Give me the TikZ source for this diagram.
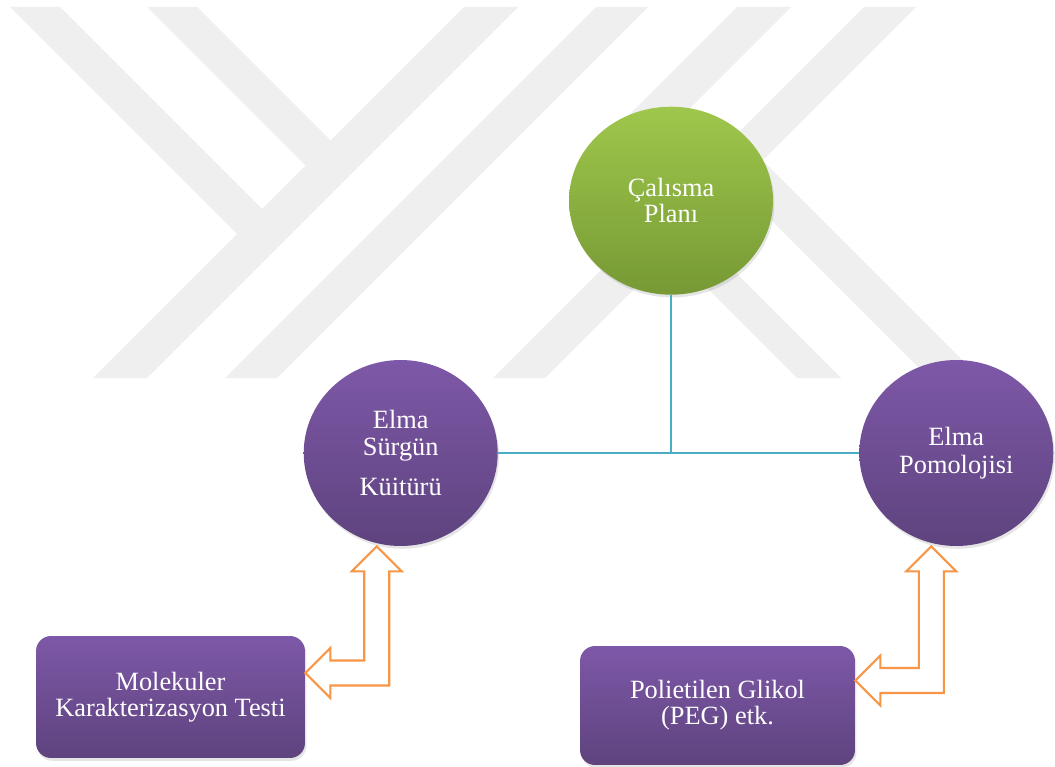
\documentclass[tikz,border=0pt]{standalone}
\usepackage{fontspec}
\setmainfont{Liberation Serif}
\usetikzlibrary{positioning,calc,shapes.geometric,shadows}
\definecolor{morust}{HTML}{7E58A8}
\definecolor{moralt}{HTML}{5E437E}
\definecolor{yesilust}{HTML}{9FC74C}
\definecolor{yesilalt}{HTML}{769934}
\definecolor{mavi}{HTML}{4BACC6}
\definecolor{turuncu}{HTML}{F79646}
\definecolor{filigran}{HTML}{EFEFEF}
\tikzset{
    daire/.style={ellipse,minimum width=3.88cm,minimum height=3.72cm,inner sep=0pt,align=center,text=white,
        font=\fontsize{15}{15.8}\selectfont,top color=morust,bottom color=moralt,
        drop shadow={opacity=.2,shadow xshift=.8pt,shadow yshift=-1.6pt}},
    ana/.style={daire,minimum width=4.08cm,minimum height=3.76cm,top color=yesilust,bottom color=yesilalt,
        font=\fontsize{15}{14.8}\selectfont},
    kutu/.style={rectangle,rounded corners=.3cm,inner sep=0pt,align=center,text=white,
        font=\fontsize{15}{14.8}\selectfont,top color=morust,bottom color=moralt,
        drop shadow={opacity=.2,shadow xshift=.8pt,shadow yshift=-1.6pt}},
    bag/.style={-,draw=mavi,line width=1pt},
    cift/.style={draw=turuncu,fill=white,line width=1.2pt,line join=miter}
}
\newcommand{\ciftok}[2]{%
    \draw[cift] let \p1=(#1), \p2=(#2) in
        (\p1) -- ++(25,25) -- ++(-12.5,0)
        -- ([shift={(12.5,12.5)}]\x1,\y2) -- ([shift={(25,12.5)}]\p2)
        -- ++(0,12.5) -- (\p2) -- ++(25,-25) -- ++(0,12.5)
        -- ([shift={(-12.5,-12.5)}]\x1,\y2) -- ([shift={(-12.5,25)}]\p1)
        -- ++(-12.5,0) -- cycle;}

\begin{document}
\begin{tikzpicture}[x=0.02cm,y=-0.02cm]
    \fill[white] (0,0) rectangle (1055,767);
    \useasboundingbox (0,0) rectangle (1055,767);

    \begin{scope}
        \clip (0,7) rectangle (1055,378);
        \fill[filigran] (464,7) -- (518,7) -- (147,378) -- (93,378) -- cycle;
        \fill[filigran] (10,7) -- (60,7) -- (266.5,213.5) -- (241.5,238.5) -- cycle;
        \fill[filigran] (147,7) -- (197,7) -- (335,145) -- (310,170) -- cycle;
        \fill[filigran] (596,7) -- (648,7) -- (277,378) -- (225,378) -- cycle;
        \fill[filigran] (737,7) -- (581.5,162.5) -- (797,378) -- (841,378) -- (630.5,167.5) -- (791,7) -- cycle;
        \fill[filigran] (864,7) -- (916,7) -- (545,378) -- (493,378) -- cycle;
        \fill[filigran] (749.5,147.5) -- (980,378) -- (929,378) -- (724,173) -- cycle;
    \end{scope}

    \coordinate (merkez) at (671,453);
    \node[ana]   (plan)     [above=3.16cm of merkez] {Çalısma\\Planı};
    \node[daire] (surgun)   [left=3.46cm of merkez]  {Elma\\Sürgün\\[7pt]Küitürü};
    \node[daire] (pomoloji) [right=3.76cm of merkez] {Elma\\Pomolojisi};

    \node[kutu,minimum width=5.38cm,minimum height=2.44cm] (molekuler) at (170.5,697) {Molekuler\\Karakterizasyon Testi};
    \node[kutu,minimum width=5.5cm,minimum height=2.38cm]  (peg)       at (717.5,705.5) {Polietilen Glikol\\(PEG) etk.};

    \draw[bag] (plan) -- (merkez);
    \draw[bag] (surgun) -- (merkez) -- (pomoloji);

    \ciftok{$(surgun.south)+(-24,0)$}{$(molekuler.east)+(0,-24)$}
    \ciftok{$(pomoloji.south)+(-25,0)$}{$(peg.east)+(0,-25)$}
\end{tikzpicture}
\end{document}
